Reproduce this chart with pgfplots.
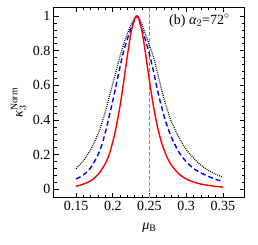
\documentclass[border=0pt]{standalone}
\usepackage{fontspec}
\setmainfont{Liberation Serif}
\usepackage{pgfplots}
\pgfplotsset{compat=1.18}
\definecolor{vlgreen}{RGB}{0,230,0}
\begin{document}
\begin{tikzpicture}
\begin{axis}[
  scale only axis, width=191pt, height=190.5pt,
  xmin=0.12, xmax=0.38, ymin=-0.05, ymax=1.05,
  xtick={0.15,0.2,0.25,0.3,0.35},
  xticklabels={0.15,0.2,0.25,0.3,0.35},
  ytick={0,0.2,0.4,0.6,0.8,1},
  yticklabels={0,0.2,0.4,0.6,0.8,1},
  minor x tick num=4, minor y tick num=4,
  tick align=inside, major tick length=5pt, minor tick length=3pt,
  tick style={black, line width=0.8pt},
  axis line style={line width=1pt},
  tick label style={font=\fontsize{14}{14}\selectfont},
  label style={font=\fontsize{14}{14}\selectfont},
  xlabel={\textit{μ}$_{\mathrm{B}}$},
  xlabel style={yshift=-5pt},
  ylabel={\textit{κ}$_{3}^{\mathrm{Norm}}$},
]
\addplot[vlgreen, line width=1.1pt, dash pattern=on 4pt off 2pt] table {
x y
0.25 -0.05
0.25 1.05
};
\addplot[black, line width=1.3pt, dash pattern=on 0.8pt off 1.2pt, smooth] coordinates {
(0.15,0.12) (0.16,0.165) (0.17,0.23) (0.18,0.32) (0.185,0.38) (0.19,0.45) (0.195,0.53)
(0.20,0.61) (0.205,0.69) (0.21,0.77) (0.215,0.84) (0.22,0.90) (0.225,0.95) (0.23,0.99) (0.2326,1.0)
(0.235,0.995) (0.24,0.95) (0.245,0.89) (0.25,0.83) (0.255,0.77) (0.26,0.69) (0.265,0.60)
(0.27,0.52) (0.275,0.45) (0.28,0.39) (0.29,0.30) (0.30,0.23) (0.31,0.18) (0.32,0.14) (0.33,0.11) (0.34,0.088) (0.35,0.07)
};
\addplot[blue, line width=1.4pt, dash pattern=on 5pt off 3pt, smooth] coordinates {
(0.15,0.06) (0.16,0.083) (0.17,0.125) (0.18,0.20) (0.185,0.255) (0.19,0.33) (0.195,0.42)
(0.20,0.51) (0.205,0.61) (0.21,0.71) (0.215,0.80) (0.22,0.87) (0.225,0.93) (0.23,0.98) (0.2326,1.0)
(0.235,0.99) (0.24,0.92) (0.245,0.855) (0.25,0.78) (0.255,0.69) (0.26,0.59) (0.265,0.50)
(0.27,0.42) (0.275,0.355) (0.28,0.30) (0.29,0.215) (0.30,0.16) (0.31,0.12) (0.32,0.095) (0.33,0.075) (0.34,0.058) (0.35,0.045)
};
\addplot[red, line width=1.4pt, smooth] coordinates {
(0.15,0.018) (0.16,0.03) (0.17,0.05) (0.18,0.085) (0.19,0.15) (0.195,0.2)
(0.20,0.274) (0.205,0.367) (0.21,0.484) (0.215,0.625) (0.22,0.775) (0.225,0.908) (0.23,0.989) (0.2326,1.0)
(0.235,0.99) (0.24,0.908) (0.245,0.773) (0.25,0.625) (0.255,0.49) (0.26,0.378) (0.265,0.291)
(0.27,0.226) (0.275,0.176) (0.28,0.139) (0.29,0.089) (0.30,0.06) (0.31,0.042) (0.32,0.030) (0.33,0.023) (0.34,0.017) (0.35,0.013)
};
\node[anchor=north east, font=\fontsize{14}{14}\selectfont, inner sep=0pt] at (rel axis cs:0.92,0.965) {(b) \textit{α}$_{2}$=72$^{\circ}$};
\end{axis}
\path (-54pt,-47pt) rectangle (204pt,198pt);
\end{tikzpicture}
\end{document}
